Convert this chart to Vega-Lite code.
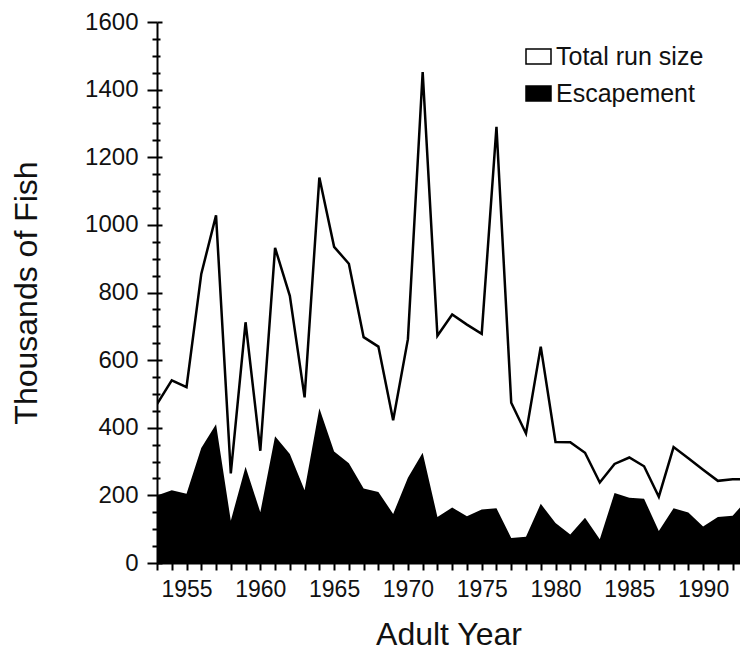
{
  "$schema": "https://vega.github.io/schema/vega-lite/v6.json",
  "width": 583,
  "height": 541,
  "autosize": "none",
  "padding": {"left": 157, "top": 22, "right": 0, "bottom": 88},
  "background": "white",
  "config": {
    "view": {"stroke": null},
    "font": "Liberation Sans",
    "axis": {"grid": false, "labelColor": "#111", "titleColor": "#111", "tickColor": "black", "domainColor": "black", "titleFontWeight": "normal", "labelOverlap": false, "labelFlush": false}
  },
  "data": {
    "values": [
      {"year": 1953, "total": 470, "escapement": 200},
      {"year": 1954, "total": 540, "escapement": 215},
      {"year": 1955, "total": 520, "escapement": 205},
      {"year": 1956, "total": 855, "escapement": 340},
      {"year": 1957, "total": 1028, "escapement": 410},
      {"year": 1958, "total": 265, "escapement": 125},
      {"year": 1959, "total": 712, "escapement": 285},
      {"year": 1960, "total": 332, "escapement": 150},
      {"year": 1961, "total": 932, "escapement": 375},
      {"year": 1962, "total": 790, "escapement": 322},
      {"year": 1963, "total": 490, "escapement": 215},
      {"year": 1964, "total": 1140, "escapement": 458},
      {"year": 1965, "total": 935, "escapement": 330},
      {"year": 1966, "total": 885, "escapement": 295},
      {"year": 1967, "total": 668, "escapement": 220},
      {"year": 1968, "total": 640, "escapement": 210},
      {"year": 1969, "total": 422, "escapement": 145},
      {"year": 1970, "total": 662, "escapement": 252},
      {"year": 1971, "total": 1452, "escapement": 326},
      {"year": 1972, "total": 672, "escapement": 136},
      {"year": 1973, "total": 735, "escapement": 164},
      {"year": 1974, "total": 705, "escapement": 138},
      {"year": 1975, "total": 678, "escapement": 158},
      {"year": 1976, "total": 1290, "escapement": 162},
      {"year": 1977, "total": 474, "escapement": 74},
      {"year": 1978, "total": 383, "escapement": 78},
      {"year": 1979, "total": 640, "escapement": 175},
      {"year": 1980, "total": 358, "escapement": 118},
      {"year": 1981, "total": 357, "escapement": 84},
      {"year": 1982, "total": 326, "escapement": 134},
      {"year": 1983, "total": 238, "escapement": 70},
      {"year": 1984, "total": 293, "escapement": 207},
      {"year": 1985, "total": 312, "escapement": 193},
      {"year": 1986, "total": 286, "escapement": 190},
      {"year": 1987, "total": 196, "escapement": 95},
      {"year": 1988, "total": 343, "escapement": 162},
      {"year": 1989, "total": 310, "escapement": 149},
      {"year": 1990, "total": 276, "escapement": 108},
      {"year": 1991, "total": 243, "escapement": 136},
      {"year": 1992, "total": 248, "escapement": 140},
      {"year": 1993, "total": 248, "escapement": 188}
    ]
  },
  "encoding": {
    "x": {
      "field": "year",
      "type": "quantitative",
      "scale": {"domain": [1953, 1992.5], "nice": false, "zero": false},
      "axis": {
        "title": "Adult Year",
        "values": [1953, 1954, 1955, 1956, 1957, 1958, 1959, 1960, 1961, 1962, 1963, 1964, 1965, 1966, 1967, 1968, 1969, 1970, 1971, 1972, 1973, 1974, 1975, 1976, 1977, 1978, 1979, 1980, 1981, 1982, 1983, 1984, 1985, 1986, 1987, 1988, 1989, 1990, 1991, 1992],
        "format": "d",
        "labelExpr": "datum.value % 5 === 0 ? datum.label : ''",
        "labelOverlap": false,
        "labelBound": false,
        "tickSize": 7,
        "tickWidth": 2,
        "domainWidth": 2,
        "labelFontSize": 23,
        "labelPadding": 8,
        "titleFontSize": 32,
        "titlePadding": 18
      }
    }
  },
  "layer": [
    {
      "mark": {"type": "area", "clip": true, "interpolate": "linear"},
      "encoding": {
        "y": {
          "field": "escapement",
          "type": "quantitative",
          "scale": {"domain": [0, 1600], "nice": false},
          "axis": {
            "title": "Thousands of Fish",
            "values": [0, 50, 100, 150, 200, 250, 300, 350, 400, 450, 500, 550, 600, 650, 700, 750, 800, 850, 900, 950, 1000, 1050, 1100, 1150, 1200, 1250, 1300, 1350, 1400, 1450, 1500, 1550, 1600],
            "format": "d",
            "labelExpr": "datum.value % 200 === 0 ? datum.label : ''",
            "labelOverlap": false,
            "labelBound": false,
            "tickSize": {"condition": {"test": "datum.value % 200 === 0", "value": 10}, "value": 5},
            "tickWidth": 2,
            "domainWidth": 2,
            "labelFontSize": 24,
            "labelPadding": 9,
            "titleFontSize": 32,
            "titlePadding": 41
          }
        },
        "fill": {
          "datum": "Escapement",
          "type": "nominal",
          "scale": {"domain": ["Total run size", "Escapement"], "range": ["white", "black"]},
          "legend": {
            "title": null,
            "orient": "none",
            "legendX": 368,
            "legendY": 21,
            "padding": 0,
            "symbolType": "M-1,-0.6H1V0.6H-1Z",
            "symbolSize": 625,
            "symbolStrokeColor": "black",
            "symbolStrokeWidth": 1.5,
            "labelFontSize": 25,
            "labelColor": "#111",
            "labelOffset": 4,
            "rowPadding": 10
          }
        }
      }
    },
    {
      "mark": {"type": "line", "color": "black", "strokeWidth": 2.5, "clip": true},
      "encoding": {
        "y": {
          "field": "total",
          "type": "quantitative",
          "scale": {"domain": [0, 1600], "nice": false},
          "axis": {
            "orient": "right",
            "offset": -583,
            "title": null,
            "labels": false,
            "domain": false,
            "values": [0, 50, 100, 150, 200, 250, 300, 350, 400, 450, 500, 550, 600, 650, 700, 750, 800, 850, 900, 950, 1000, 1050, 1100, 1150, 1200, 1250, 1300, 1350, 1400, 1450, 1500, 1550, 1600],
            "tickSize": {"condition": {"test": "datum.value % 200 === 0", "value": 5}, "value": 3},
            "tickWidth": 2
          }
        }
      }
    }
  ],
  "resolve": {"axis": {"y": "independent"}}
}
